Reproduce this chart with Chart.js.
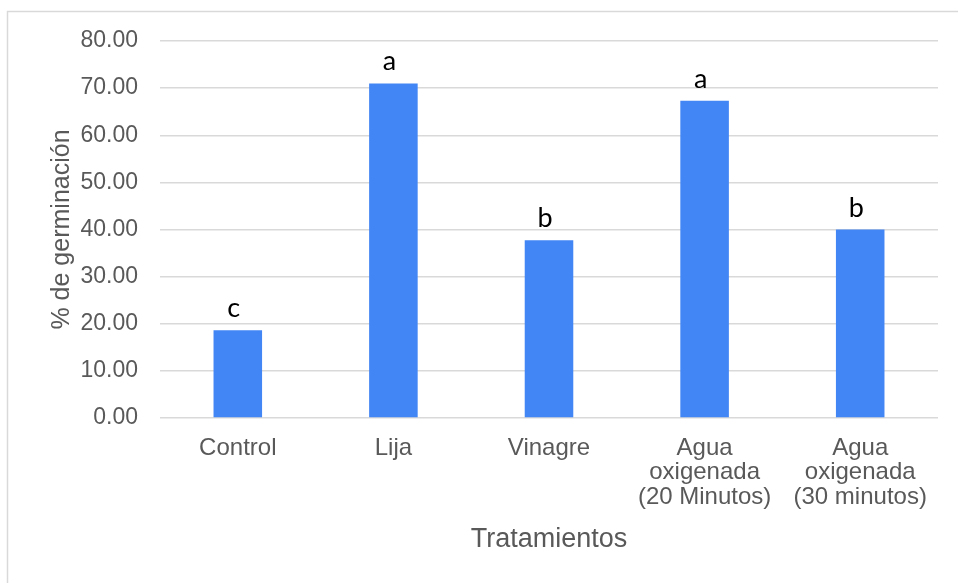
<!DOCTYPE html>
<html>
<head>
<meta charset="utf-8">
<script src="https://cdn.jsdelivr.net/npm/chart.js@4"></script>
<style>
  html, body { margin: 0; padding: 0; background: #ffffff; }
  #wrap { width: 958px; height: 583px; position: relative; }
</style>
</head>
<body>
<div id="wrap"><canvas id="chart" width="958" height="583"></canvas></div>
<script>
// Germination percentage per seed treatment
const categories = [
  'Control',
  'Lija',
  'Vinagre',
  ['Agua', 'oxigenada', '(20 Minutos)'],
  ['Agua', 'oxigenada', '(30 minutos)']
];
const germination = [18.6, 71.0, 37.7, 67.3, 40.0];
const groupLetters = ['c', 'a', 'b', 'a', 'b'];
const yTicks = [0, 10, 20, 30, 40, 50, 60, 70, 80];

const GRAY_TEXT = '#595959';
const GRID = '#d9d9d9';
const SANS = '"Liberation Sans", Arial, sans-serif';

// Outer frame of the chart (only top and left edges fall inside the canvas)
const framePlugin = {
  id: 'frame',
  beforeDraw(chart) {
    const ctx = chart.ctx;
    ctx.save();
    ctx.strokeStyle = '#d9d9d9';
    ctx.lineWidth = 1.5;
    ctx.beginPath();
    ctx.moveTo(7.5, chart.height + 2);
    ctx.lineTo(7.5, 11.5);
    ctx.lineTo(chart.width + 2, 11.5);
    ctx.stroke();
    ctx.restore();
  }
};

// Significance letters above each bar
const letterPlugin = {
  id: 'letters',
  afterDatasetsDraw(chart) {
    const ctx = chart.ctx;
    const meta = chart.getDatasetMeta(0);
    ctx.save();
    ctx.fillStyle = '#000000';
    ctx.font = '27px Lato, "Open Sans", sans-serif';
    ctx.textAlign = 'center';
    ctx.textBaseline = 'alphabetic';
    meta.data.forEach((bar, i) => {
      ctx.fillText(groupLetters[i], bar.x - 4, bar.y - 13);
    });
    ctx.restore();
  }
};

new Chart(document.getElementById('chart'), {
  type: 'bar',
  data: {
    labels: categories,
    datasets: [{
      data: germination,
      backgroundColor: '#4285F4',
      borderWidth: 0,
      categoryPercentage: 1.0,
      barPercentage: 0.312
    }]
  },
  options: {
    responsive: false,
    animation: false,
    devicePixelRatio: 1,
    layout: { padding: { left: 7, right: 20, top: 41, bottom: 0 } },
    plugins: {
      legend: { display: false },
      tooltip: { enabled: false }
    },
    scales: {
      x: {
        grid: { display: false, drawTicks: false },
        border: { display: false },
        ticks: {
          color: GRAY_TEXT,
          font: { family: SANS, size: 24, lineHeight: 1.02 },
          padding: 18,
          maxRotation: 0,
          autoSkip: false
        },
        title: {
          display: true,
          text: 'Tratamientos',
          color: GRAY_TEXT,
          font: { family: SANS, size: 27, lineHeight: 1.2 },
          padding: { top: 0, bottom: 27 }
        },
        afterFit(scale) { scale.height = 165; }
      },
      y: {
        min: 0,
        max: 80,
        afterBuildTicks(scale) { scale.ticks = yTicks.map(v => ({ value: v })); },
        grid: { color: GRID, lineWidth: 1.5, drawTicks: false },
        border: { display: false },
        ticks: {
          color: GRAY_TEXT,
          font: { family: SANS, size: 23 },
          padding: 22,
          callback: v => Number(v).toFixed(2)
        },
        title: {
          display: true,
          text: '% de germinación',
          color: GRAY_TEXT,
          font: { family: SANS, size: 25, lineHeight: 1.2 },
          padding: { top: 40, bottom: 0 }
        },
        afterFit(scale) { scale.width = 153; }
      }
    }
  },
  plugins: [framePlugin, letterPlugin]
});
</script>
</body>
</html>
